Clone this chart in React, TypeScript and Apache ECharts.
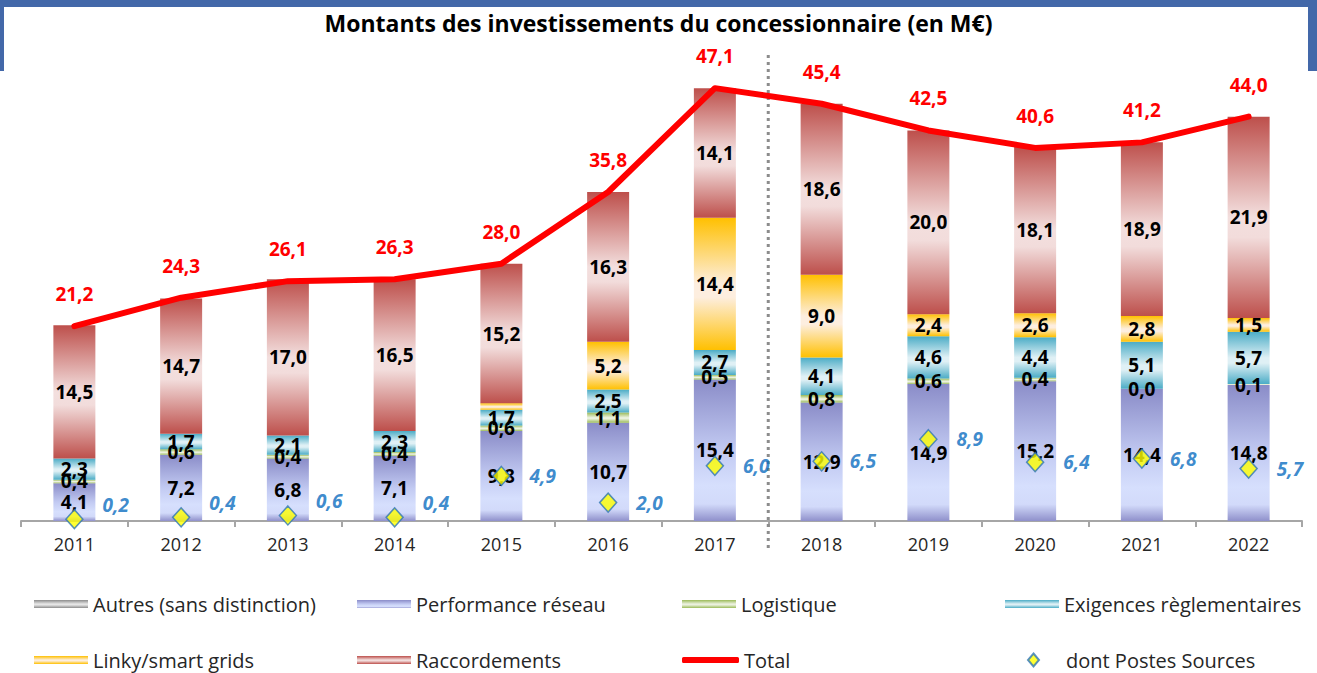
import React, { useEffect, useRef } from 'react';
import * as echarts from 'echarts';

const years = ['2011', '2012', '2013', '2014', '2015', '2016', '2017', '2018', '2019', '2020', '2021', '2022'];
const autres = [0, 0, 0, 0, 0, 0, 0, 0, 0, 0, 0, 0];
const performance = [4.1, 7.2, 6.8, 7.1, 9.8, 10.7, 15.4, 12.9, 14.9, 15.2, 14.4, 14.8];
const logistique = [0.4, 0.6, 0.4, 0.4, 0.6, 1.1, 0.5, 0.8, 0.6, 0.4, 0.0, 0.1];
const exigences = [2.3, 1.7, 2.1, 2.3, 1.7, 2.5, 2.7, 4.1, 4.6, 4.4, 5.1, 5.7];
const linky = [null, null, null, null, 0.7, 5.2, 14.4, 9.0, 2.4, 2.6, 2.8, 1.5];
const raccordements = [14.5, 14.7, 17.0, 16.5, 15.2, 16.3, 14.1, 18.6, 20.0, 18.1, 18.9, 21.9];
const total = [21.2, 24.3, 26.1, 26.3, 28.0, 35.8, 47.1, 45.4, 42.5, 40.6, 41.2, 44.0];
const postesSources = [0.2, 0.4, 0.6, 0.4, 4.9, 2.0, 6.0, 6.5, 8.9, 6.4, 6.8, 5.7];

const FONT = '"Open Sans", "Noto Sans", sans-serif';
const fmt = (v: number) => v.toFixed(1).replace('.', ',');

const grad = (edge: string, mid: string, mid2?: string) =>
  new echarts.graphic.LinearGradient(0, 0, 0, 1, [
    { offset: 0, color: edge },
    { offset: 0.5, color: mid },
    { offset: 0.6, color: mid2 || mid },
    { offset: 1, color: edge },
  ]);

const perfGrad = () =>
  new echarts.graphic.LinearGradient(0, 0, 0, 1, [
    { offset: 0, color: '#8a8cc8' },
    { offset: 0.5, color: '#c2caf2' },
    { offset: 0.75, color: '#d6dffd' },
    { offset: 0.88, color: '#d2dafa' },
    { offset: 1, color: '#8f90cb' },
  ]);

const barLabel = (minShown: number) => ({
  show: true,
  position: 'inside',
  color: '#000',
  fontFamily: FONT,
  fontWeight: 'bold',
  fontSize: 19,
  formatter: (p: any) => (p.value == null || p.value < minShown ? '' : fmt(p.value)),
});

export default function App() {
  const ref = useRef<HTMLDivElement>(null);
  useEffect(() => {
    if (!ref.current) return;
    const chart = echarts.init(ref.current, undefined, { renderer: 'svg' });
    const legendText = { fontFamily: FONT, fontSize: 20, color: '#262626', lineHeight: 22 };
    const mkLegend = (name: string, left: number, top: number, extra: any = {}) => ({
      data: [name],
      left,
      top,
      padding: 0,
      itemWidth: 54,
      itemHeight: 8,
      icon: 'rect',
      selectedMode: false,
      textStyle: legendText,
      ...extra,
    });
    const baseGraphic = [
      { id: 'blue', type: 'rect', z: -10, shape: { x: 0, y: 0, width: 1317, height: 72 }, style: { fill: '#4368a9' }, silent: true },
      { id: 'white1', type: 'rect', z: -9, shape: { x: 4, y: 7, width: 1304, height: 70 }, style: { fill: '#ffffff' }, silent: true },
      { id: 'white2', type: 'rect', z: -9, shape: { x: 0, y: 71, width: 1317, height: 602 }, style: { fill: '#ffffff' }, silent: true },
    ];
    const stackBar = (name: string, data: any[], color: any, label: any) => ({
      name,
      type: 'bar',
      stack: 'inv',
      barWidth: 42,
      data,
      itemStyle: { color },
      label,
      z: 2,
    });
    const option: any = {
      animation: false,
      backgroundColor: '#ffffff',
      title: {
        text: 'Montants des investissements du concessionnaire (en M€)',
        left: 'center',
        top: 6,
        textStyle: { fontFamily: FONT, fontSize: 23, fontWeight: 'bold', color: '#000' },
      },
      graphic: baseGraphic,
      grid: { left: 21, right: 15, top: 61.5, bottom: 152, containLabel: false },
      xAxis: {
        type: 'category',
        data: years,
        boundaryGap: true,
        axisLine: { lineStyle: { color: '#a6a6a6', width: 2 } },
        axisTick: { show: true, length: 6, lineStyle: { color: '#a6a6a6', width: 2 } },
        axisLabel: { fontFamily: FONT, fontSize: 18, color: '#262626', margin: 14 },
      },
      yAxis: { type: 'value', min: 0, max: 50, show: false, splitLine: { show: false } },
      legend: [
        mkLegend('Autres (sans distinction)', 34, 593),
        mkLegend('Performance réseau', 357, 593),
        mkLegend('Logistique', 682, 593),
        mkLegend('Exigences règlementaires', 1005, 593),
        mkLegend('Linky/smart grids', 34, 649),
        mkLegend('Raccordements', 357, 649),
        mkLegend('Total', 682, 649, { icon: 'roundRect', itemWidth: 57, itemHeight: 6 }),
        mkLegend('dont Postes Sources', 1027, 649, {
          icon: 'diamond',
          itemWidth: 11,
          itemHeight: 13,
          textStyle: { ...legendText, padding: [0, 0, 0, 22] },
        }),
      ],
      series: [
        stackBar('Autres (sans distinction)', autres, grad('#8c8c8c', '#e6e6e6'), { show: false }),
        stackBar('Performance réseau', performance, perfGrad(), barLabel(0)),
        stackBar('Logistique', logistique, grad('#9bbb59', '#ebf1de'), barLabel(0)),
        stackBar('Exigences règlementaires', exigences, grad('#4bacc6', '#dff0f5'), barLabel(0)),
        stackBar('Linky/smart grids', linky, grad('#ffc000', '#fdeedf'), barLabel(1)),
        stackBar('Raccordements', raccordements, grad('#bd4f4b', '#f3dfde', '#f2dcdb'), barLabel(0)),
        {
          name: 'Total',
          type: 'line',
          data: total,
          z: 5,
          symbol: 'circle',
          symbolSize: 1,
          showSymbol: true,
          itemStyle: { color: '#ff0000' },
          lineStyle: { color: '#ff0000', width: 6, cap: 'round', join: 'round' },
          label: {
            show: true,
            position: 'top',
            distance: 22,
            color: '#ff0000',
            fontFamily: FONT,
            fontWeight: 'bold',
            fontSize: 19,
            formatter: (p: any) => fmt(p.value),
          },
        },
        {
          name: 'dont Postes Sources',
          type: 'scatter',
          z: 6,
          symbol: 'diamond',
          symbolSize: [17, 19],
          itemStyle: { color: '#ffff00', borderColor: '#2e75b6', borderWidth: 1.5 },
          data: postesSources.map((v) => ({
            value: v,
            label: v < 1 ? { offset: [0, -14] } : undefined,
          })),
          label: {
            show: true,
            position: 'right',
            distance: 19,
            color: '#0a6cc0',
            fontFamily: FONT,
            fontWeight: 'bold',
            fontStyle: 'italic',
            fontSize: 19,
            formatter: (p: any) => fmt(p.value),
          },
        },
      ],
    };
    chart.setOption(option);
    const x1 = chart.convertToPixel({ xAxisIndex: 0 }, '2017') as number;
    const x2 = chart.convertToPixel({ xAxisIndex: 0 }, '2018') as number;
    const xs = (x1 + x2) / 2;
    chart.setOption({
      graphic: [
        ...baseGraphic,
        {
          id: 'sep',
          type: 'line',
          z: 1,
          silent: true,
          shape: { x1: xs, y1: 55, x2: xs, y2: 552 },
          style: { stroke: '#8c8c8c', lineWidth: 3, lineDash: [3, 4] },
        },
      ],
    });
    return () => chart.dispose();
  }, []);
  return <div ref={ref} style={{ position: 'fixed', left: 0, top: 0, width: 1317, height: 673 }} />;
}
